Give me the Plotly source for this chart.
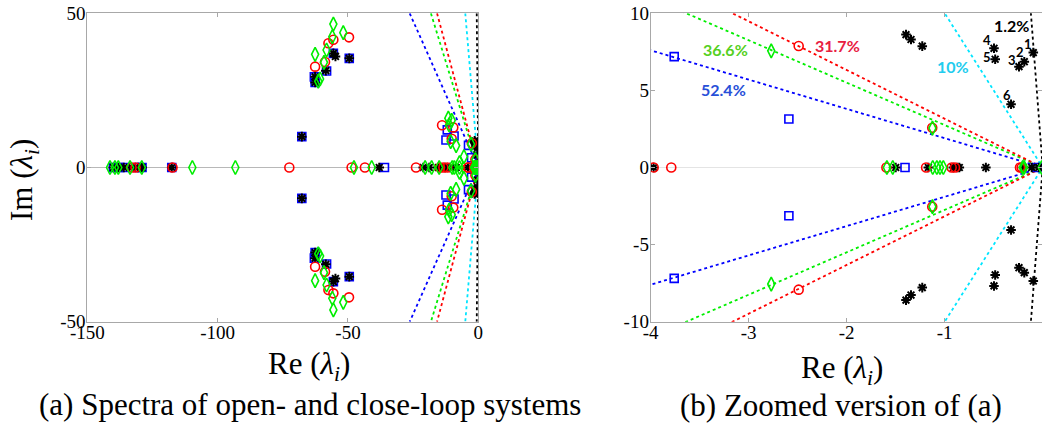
import plotly.graph_objects as go

# ---------------- data ----------------
black_re = [-140.0, -138.0, -136.0, -133.0, -130.5, -129.0, -117.6, -67.7, -67.7,
            -62.6, -62.6, -62.6, -62.6, -58.5, -58.5, -55.6, -55.6, -54.8, -54.8, -49.5, -49.5,
            -38.0, -21.1, -18.8, -15.3, -12.8, -10.9, -8.5,
            -3.97, -1.395, -1.395, -1.344, -1.344, -1.229, -1.229, -0.497, -0.497,
            -0.485, -0.485, -0.242, -0.242, -0.188, -0.188, -0.096, -0.096, -0.323, -0.323,
            -1.50, -1.167, -0.912, -0.871, -0.851, -0.58, -0.197, -0.112, -0.04]
black_im = [0, 0, 0, 0, 0, 0, 0, 10.0, -10.0,
            29.4, -29.4, 27.6, -27.6, 31.4, -31.4, 37.0, -37.0, 36.0, -36.0, 35.4, -35.4,
            0, 0, 0, 0, 0, 0, 0,
            0, 8.62, -8.60, 8.30, -8.27, 7.87, -7.79, 7.73, -7.68,
            7.02, -6.97, 6.54, -6.50, 6.86, -6.82, 7.45, -7.36, 4.10, -4.05,
            0, 0, 0, 0, 0, 0, 0, 0, 0]

blue_re = [-140.0, -138.0, -135.5, -130.5, -129.0, -117.6, -67.7, -67.7,
           -62.9, -62.9, -62.6, -62.6, -58.2, -58.2, -55.6, -55.6, -49.5, -49.5,
           -36.0, -11.9, -11.9, -12.4, -12.4, -9.3, -9.3,
           -3.76, -3.76, -2.59, -2.59, -1.405, -0.06]
blue_im = [0, 0, 0, 0, 0, 0, 10.0, -10.0,
           29.4, -29.4, 27.6, -27.6, 31.3, -31.3, 37.0, -37.0, 35.4, -35.4,
           0, 12.2, -12.2, 8.9, -8.9, 10.2, -10.2,
           7.19, -7.19, 3.15, -3.13, 0, 0]

red_re = [-133.0, -131.5, -117.3, -72.5, -48.6, -43.5, -23.9, -14.7, -13.4, -11.9,
          -49.6, -49.6, -55.6, -55.6, -57.5, -57.5, -62.6, -62.6, -58.8, -58.8,
          -13.9, -13.9, -9.6, -9.6, -10.2, -10.2,
          -3.97, -3.79, -2.49, -2.49, -1.127, -1.127, -1.595, -1.19, -0.929, -0.895, -0.232, -0.214]
red_im = [0, 0, 0, 0, 0, 0, 0, 0, 0, 0,
          42.2, -42.1, 41.4, -40.8, 40.3, -39.7, 32.7, -32.2, 34.2, -33.8,
          13.7, -13.7, 13.0, -13.0, 9.3, -9.3,
          0, 0, 7.88, -7.92, 2.58, -2.54, 0, 0, 0, 0, 0, 0]

green_re = [-141.3, -139.4, -138.1, -133.6, -129.1, -109.7, -93.2, -47.7, -40.9, -20.4,
            -17.9, -15.0, -10.0, -9.2, -7.2, -7.2, -7.2,
            -55.6, -55.6, -51.8, -51.8, -56.0, -56.0, -62.6, -62.6, -58.2, -58.2,
            -59.2, -59.2, -61.4, -61.4, -60.7, -60.7,
            -11.5, -11.5, -10.2, -10.2, -11.2, -11.2, -10.6, -10.6, -8.5, -8.5, -5.5, -5.5,
            -2.77, -2.77, -1.125, -1.125, -1.59, -1.53, -1.122, -1.08, -1.048, -1.014,
            -0.204, -0.19, -0.01]
green_im = [0, 0, 0, 0, 0, 0, 0, 0, 0, 0,
            0, 0, 0, 0, 0, 1.6, -1.6,
            46.5, -46.2, 43.7, -43.7, 42.4, -42.4, 36.7, -36.7, 38.1, -38.1,
            34.1, -34.1, 28.0, -28.0, 28.7, -28.7,
            16.0, -16.0, 15.3, -15.3, 13.8, -13.8, 8.4, -8.4, 7.1, -7.1, 3.5, -3.5,
            7.57, -7.56, 2.56, -2.54, 0, 0, 0, 0, 0, 0,
            0, 0, 0]

damping_labels = ["52.4%", "36.6%", "31.7%", "10%", "1.2%"]
damping_slopes = [1.9, 2.75, 3.16, 10.0, 83.0]      # |Im/Re| of each damping line
mode_numbers = ["1", "2", "3", "4", "5", "6"]

left_xticks = [-150, -100, -50, 0]
left_xtext = ["-150", "-100", "-50", "0"]
left_yticks = [-50, 0, 50]
left_ytext = ["-50", "0", "50"]
right_xticks = [-4, -3, -2, -1, 0]
right_xtext = ["-4", "-3", "-2", "-1", "0"]
right_yticks = [-10, -5, 0, 5, 10]
right_ytext = ["-10", "-5", "0", "5", "10"]

# ---------------- styling ----------------
W, H = 1042, 425
line_colors = ["#0000FF", "#00EE00", "#FF0000", "#00E5FF", "#000000"]
label_colors = ["#2850D8", "#55D022", "#E8203F", "#22CCEE", "#000000"]
SERIF = "Liberation Serif"
SANS = "Lato"

fig = go.Figure()

Y_EXT = 50.0
for ax in ("1", "2"):
    xa = "x" if ax == "1" else "x2"
    ya = "y" if ax == "1" else "y2"
    for s, c in zip(damping_slopes, line_colors):
        fig.add_trace(go.Scatter(
            x=[-Y_EXT / s, 0, -Y_EXT / s], y=[Y_EXT, 0, -Y_EXT],
            mode="lines", line=dict(color=c, width=1.8, dash="dot"),
            xaxis=xa, yaxis=ya, hoverinfo="skip", showlegend=False))
    fig.add_trace(go.Scatter(x=blue_re, y=blue_im, mode="markers", xaxis=xa, yaxis=ya,
                             marker=dict(symbol="square-open", size=8, color="#0000FF",
                                         line=dict(width=1.6, color="#0000FF")),
                             showlegend=False))
    fig.add_trace(go.Scatter(x=black_re, y=black_im, mode="markers", xaxis=xa, yaxis=ya,
                             marker=dict(symbol="asterisk-open", size=8, color="#000000",
                                         line=dict(width=2, color="#000000")),
                             showlegend=False))
    fig.add_trace(go.Scatter(x=red_re, y=red_im, mode="markers", xaxis=xa, yaxis=ya,
                             marker=dict(symbol="circle-open", size=9, color="#FF0000",
                                         line=dict(width=1.6, color="#FF0000")),
                             showlegend=False))
    fig.add_trace(go.Scatter(x=green_re, y=green_im, mode="markers", xaxis=xa, yaxis=ya,
                             marker=dict(symbol="diamond-tall-open", size=10, color="#00EE00",
                                         line=dict(width=1.6, color="#00EE00")),
                             showlegend=False))

ydom = [(H - 321.7) / H, (H - 13.3) / H]
axis_common = dict(showline=True, mirror="ticks", linecolor="#a8a8a8", linewidth=1,
                   ticks="inside", ticklen=4, tickcolor="#a8a8a8", showgrid=False,
                   automargin=False,
                   tickfont=dict(family=SERIF, size=19, color="black"), tickmode="array")

fig.update_layout(
    width=W, height=H, autosize=False,
    margin=dict(l=0, r=0, t=0, b=0, pad=0),
    paper_bgcolor="white", plot_bgcolor="white",
    xaxis=dict(domain=[87.3 / W, 478.3 / W], range=[-150, 0],
               tickvals=left_xticks, ticktext=left_xtext, zeroline=False,
               ticklabelstandoff=-7, anchor="y", **axis_common),
    yaxis=dict(domain=ydom, range=[-50, 50], tickvals=left_yticks, ticktext=left_ytext,
               zeroline=True, zerolinecolor="#b8b8b8", zerolinewidth=1,
               ticklabelstandoff=-3, anchor="x", **axis_common),
    xaxis2=dict(domain=[650.7 / W, 1.0], range=[-4, -4 + (W - 650.7) / 98.0],
                tickvals=right_xticks, ticktext=right_xtext, zeroline=False,
                ticklabelstandoff=-7, anchor="y2", **axis_common),
    yaxis2=dict(domain=ydom, range=[-10, 10], tickvals=right_yticks, ticktext=right_ytext,
                zeroline=True, zerolinecolor="#e4e4e4", zerolinewidth=1,
                ticklabelstandoff=-3, anchor="x2", **axis_common),
)

ann = []
def px(xp, yp):
    return xp / W, 1 - yp / H

for text, (xp, yp), angle in [
    ("Re (<i>λ</i><sub><i>i</i></sub>)", (309, 366), 0),
    ("Re (<i>λ</i><sub><i>i</i></sub>)", (842, 370), 0),
    ("Im (<i>λ</i><sub><i>i</i></sub>)", (24, 180), -90),
    ("(a) Spectra of open- and close-loop systems", (310, 404), 0),
    ("(b) Zoomed version of (a)", (841, 405), 0),
]:
    x, y = px(xp, yp)
    ann.append(dict(text=text, x=x, y=y, xref="paper", yref="paper", showarrow=False,
                    textangle=angle, xanchor="center", yanchor="middle",
                    font=dict(family=SERIF, size=31, color="black")))

label_pos = [(-3.26, 5.03), (-3.24, 7.62), (-2.09, 7.88), (-0.912, 6.54), (-0.316, 9.24)]
for t, (x, y), c in zip(damping_labels, label_pos, label_colors):
    ann.append(dict(text="<b>%s</b>" % t, x=x, y=y, xref="x2", yref="y2", showarrow=False,
                    xanchor="center", yanchor="middle",
                    font=dict(family=SANS, size=16, color=c)))

mode_pos = [(-0.153, 7.99), (-0.232, 7.51), (-0.316, 6.97), (-0.565, 8.27), (-0.571, 7.19), (-0.367, 4.70)]
for t, (x, y) in zip(mode_numbers, mode_pos):
    ann.append(dict(text="<b>%s</b>" % t, x=x, y=y, xref="x2", yref="y2", showarrow=False,
                    xanchor="center", yanchor="middle",
                    font=dict(family=SANS, size=13, color="black")))

fig.update_layout(annotations=ann)
fig.write_html("out.html")
